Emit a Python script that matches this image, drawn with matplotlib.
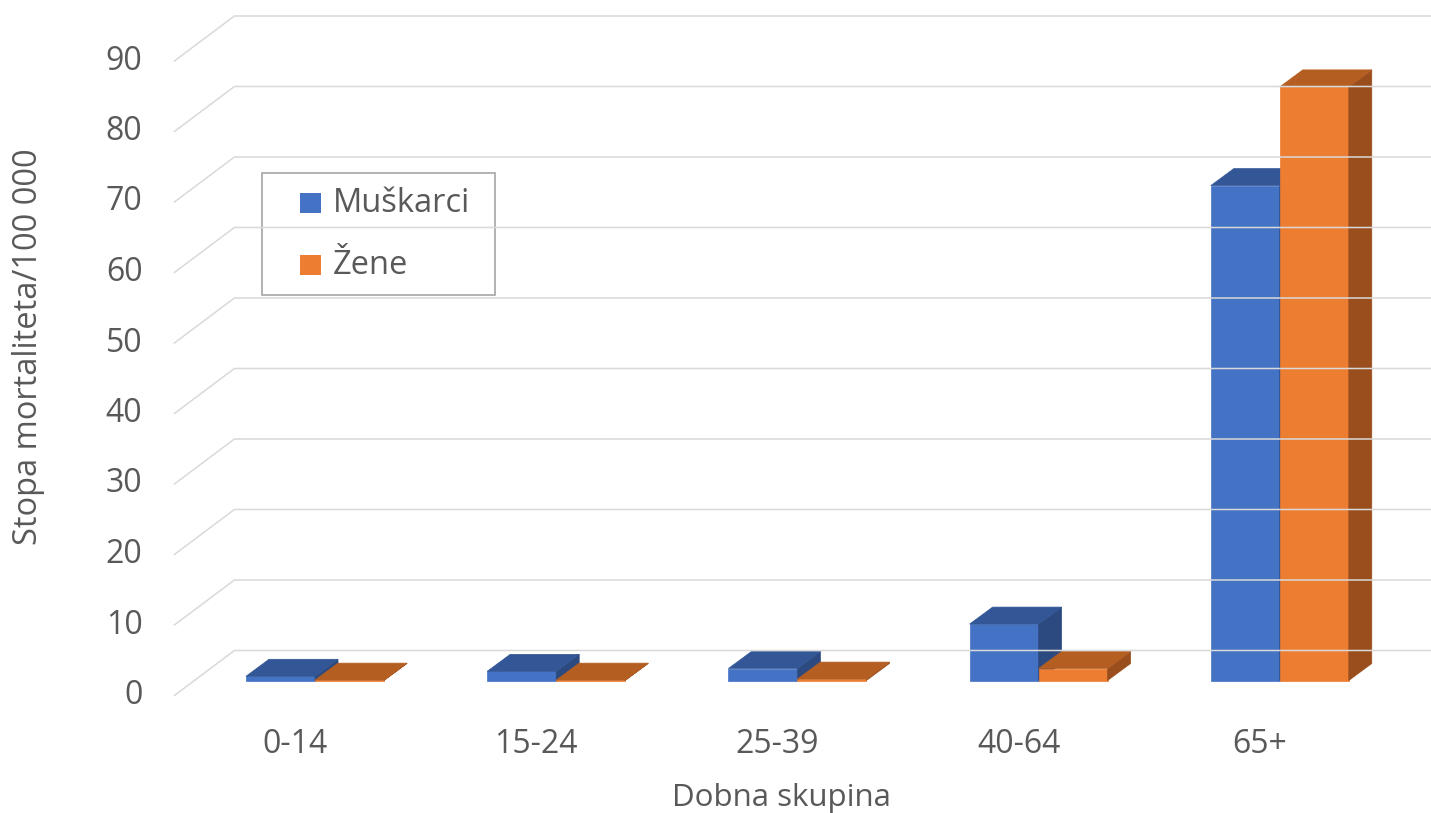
import matplotlib
matplotlib.use("Agg")
import matplotlib.pyplot as plt
from matplotlib.patches import Polygon, Rectangle
from matplotlib.lines import Line2D
from matplotlib.transforms import IdentityTransform

# ---- data ---------------------------------------------------------------
categories = ["0-14", "15-24", "25-39", "40-64", "65+"]
muskarci = [0.6, 1.3, 1.7, 8.0, 70.2]
zene = [0.05, 0.05, 0.2, 1.7, 84.2]
series_names = ["Muškarci", "Žene"]
y_ticks = [0, 10, 20, 30, 40, 50, 60, 70, 80, 90]
x_title = "Dobna skupina"
y_title = "Stopa mortaliteta/100 000"

# ---- style --------------------------------------------------------------
FONT = ["Open Sans", "DejaVu Sans"]
TEXT = "#595959"
GRID = "#D9D9D9"
BLUE = {"front": "#4472C4", "top": "#335796", "side": "#2C4A80"}
ORANGE = {"front": "#ED7D31", "top": "#B45E22", "side": "#9A4E1D"}
plt.rcParams["font.family"] = FONT

W, H, DPI = 1431, 813, 100
fig = plt.figure(figsize=(W / DPI, H / DPI), dpi=DPI)
fig.patch.set_facecolor("white")

# axes = front plane of the bars
ax = fig.add_axes([194.4 / W, (H - 680.5) / H, 1206.0 / W, 634.5 / H])
ax.set_xlim(-0.5, len(categories) - 0.5)
ax.set_ylim(0, 90)
ax.axis("off")

BAR_W = 0.286             # width of one bar in category units
BAR_DEPTH = (23.0, 17.0)  # oblique depth of a bar (pixels)
WALL_FRONT = (-20.0, -15.0)
WALL_BACK = (40.0, 30.0)
ident = IdentityTransform()


def pt(x, v, off=(0.0, 0.0)):
    px, py = ax.transData.transform((x, v))
    return (px + off[0], py + off[1])


# ---- gridlines: diagonal on the side wall + horizontal on the back wall --
for v in y_ticks:
    p0 = pt(-0.5, v, WALL_FRONT)
    p1 = pt(-0.5, v, WALL_BACK)
    fig.add_artist(Line2D([p0[0], p1[0], W], [p0[1], p1[1], p1[1]],
                          transform=ident, color=GRID, lw=1.1,
                          solid_joinstyle="miter"))
    fig.text(p0[0] - 32, p0[1], f"{v}", transform=ident, ha="right",
             va="center", fontsize=23, color=TEXT)


# ---- 3-D style bars -----------------------------------------------------
def bar3d(x0, v, colors):
    x1 = x0 + BAR_W
    dx, dy = BAR_DEPTH
    fl, fr = pt(x0, 0), pt(x1, 0)
    tl, tr = pt(x0, v), pt(x1, v)
    front = [fl, fr, tr, tl]
    top = [tl, tr, (tr[0] + dx, tr[1] + dy), (tl[0] + dx, tl[1] + dy)]
    side = [fr, (fr[0] + dx, fr[1] + dy), (tr[0] + dx, tr[1] + dy), tr]
    for poly, key in ((front, "front"), (side, "side"), (top, "top")):
        fig.add_artist(Polygon(poly, closed=True, transform=ident,
                               facecolor=colors[key], edgecolor=colors[key],
                               lw=0.5))


for i, (m, z) in enumerate(zip(muskarci, zene)):
    bar3d(i - BAR_W, m, BLUE)
    bar3d(i, z, ORANGE)

# ---- category labels and axis titles ------------------------------------
for i, c in enumerate(categories):
    p = pt(i, 0, WALL_FRONT)
    fig.text(p[0], H - 753, c, transform=ident, ha="center", va="baseline",
             fontsize=23, color=TEXT)

fig.text(781, H - 806, x_title, transform=ident, ha="center",
         va="baseline", fontsize=22.5, color=TEXT)
fig.text(29, H - 347, y_title, transform=ident, ha="center", va="center",
         rotation=90, fontsize=23.5, color=TEXT)

# ---- legend -------------------------------------------------------------
fig.add_artist(Rectangle((262, H - 295), 233, 122, transform=ident,
                         facecolor="white", edgecolor="#A6A6A6", lw=1.2))
for k, (name, col) in enumerate(zip(series_names, [BLUE, ORANGE])):
    cy = H - (203 + 62 * k)
    fig.add_artist(Rectangle((300, cy - 10), 21, 20, transform=ident,
                             facecolor=col["front"], edgecolor="none"))
    fig.text(333, cy, name, transform=ident, ha="left", va="center",
             fontsize=23.5, color=TEXT)

fig.savefig("out.png", dpi=DPI, facecolor="white")
